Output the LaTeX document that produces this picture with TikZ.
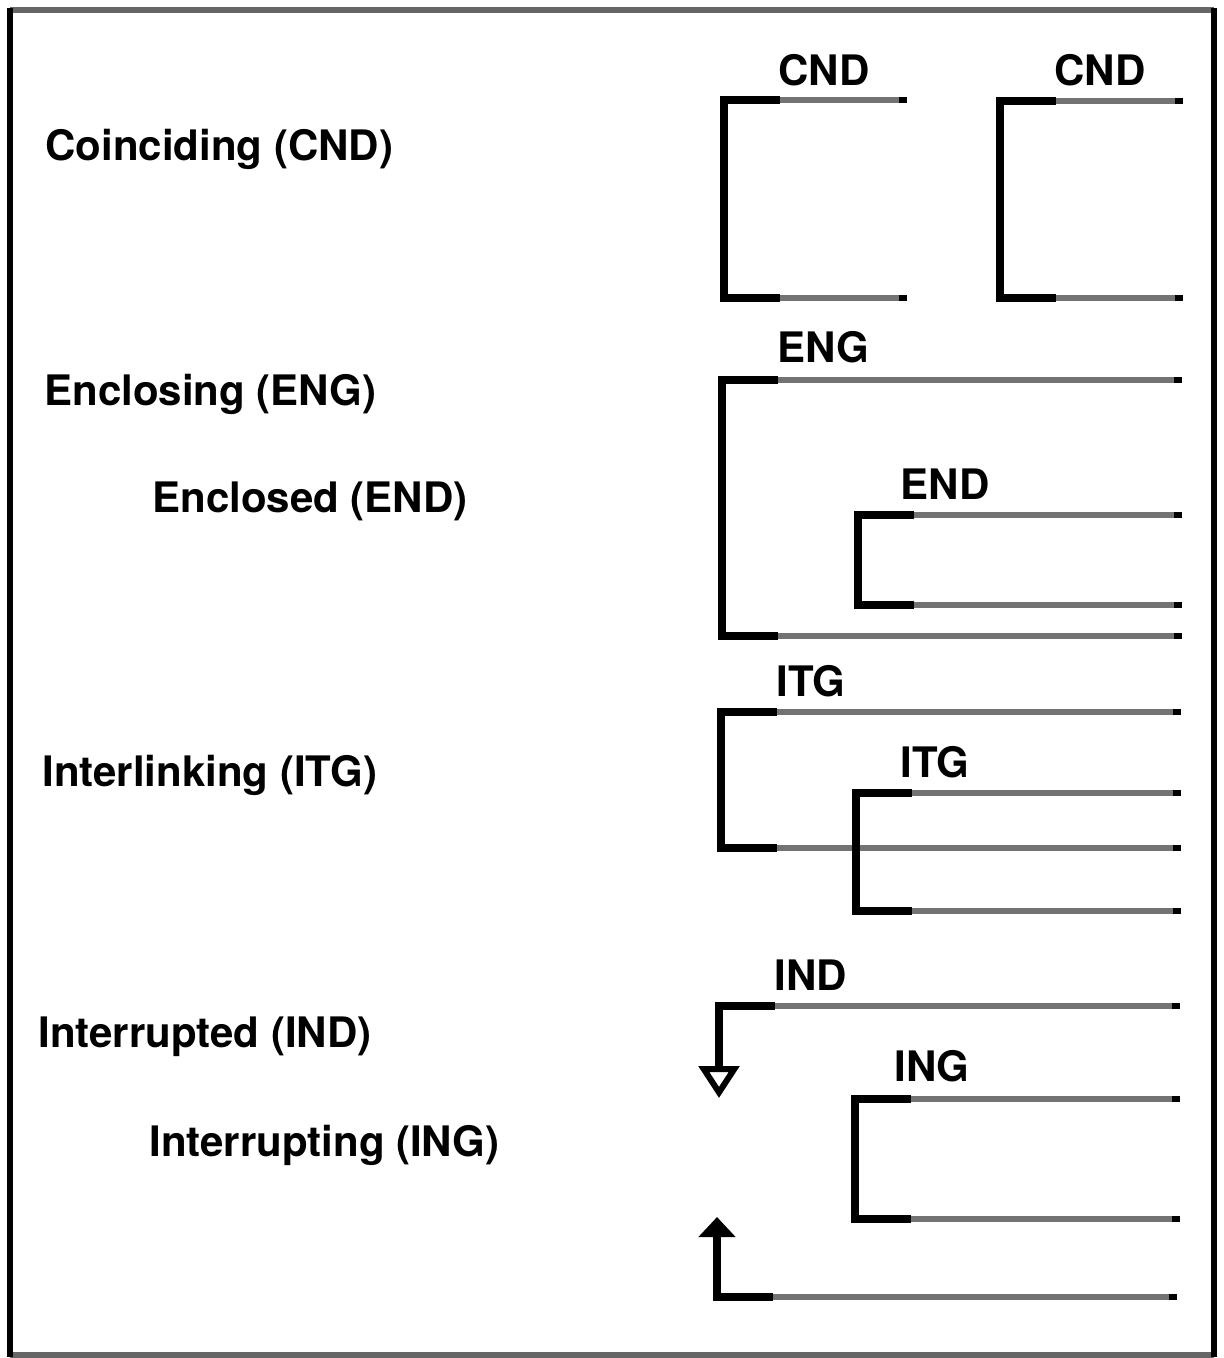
\documentclass[tikz,border=0pt]{standalone}
\usepackage{fontspec}
\setmainfont{TeX Gyre Heros}
\usetikzlibrary{arrows.meta}
\newcommand\brk[5]{% name, x, ytop, ybot, xend
  \coordinate (#1-tl) at (#2,#3);
  \coordinate (#1-bl) at (#2,#4);
  \coordinate (#1-tr) at (#5,#3);
  \coordinate (#1-br) at (#5,#4);
  \draw[graypart] ([xshift=27pt]#1-tl) -- (#1-tr);
  \draw[graypart] ([xshift=27pt]#1-bl) -- (#1-br);
  \draw[blackpart] ([xshift=28pt]#1-tl) -- (#1-tl) -- (#1-bl) -- ([xshift=28pt]#1-bl);
  \fill ([xshift=-4pt,yshift=1.6pt]#1-tr) rectangle ([yshift=-1.6pt]#1-tr);
  \fill ([xshift=-4pt,yshift=1.6pt]#1-br) rectangle ([yshift=-1.6pt]#1-br);
}
\begin{document}
\begin{tikzpicture}[x=0.5pt,y=-0.5pt,
  lab/.style={font=\fontsize{21}{24}\selectfont\bfseries, inner sep=0pt},
  blackpart/.style={line width=3.8pt, black, line join=miter},
  graypart/.style={line width=2.8pt, black!55},
  framev/.style={line width=3.2pt, black},
  frameh/.style={line width=2.8pt, black!60}]
\useasboundingbox (0,0) rectangle (1223,1358);
% frame
\draw[frameh] (10,10) -- (1214,10);
\draw[frameh] (10,1355) -- (1214,1355);
\draw[framev] (10,8) -- (10,1357);
\draw[framev] (1214,8) -- (1214,1357);
% left labels
\node[lab, anchor=west] (t1) at (45,149) {Coinciding (CND)};
\node[lab, anchor=west] (t2) at (44,394) {Enclosing (ENG)};
\node[lab, anchor=west] (t3) at (152,501) {Enclosed (END)};
\node[lab, anchor=west] (t4) at (42,775) {Interlinking (ITG)};
\node[lab, anchor=west] (t5) at (38,1037) {Interrupted (IND)};
\node[lab, anchor=west] (t6) at (149,1145) {Interrupting (ING)};
% bracket labels
\node[lab] (l1) at (824,70) {CND};
\node[lab] (l2) at (1100,70) {CND};
\node[lab] (l3) at (823,347) {ENG};
\node[lab] (l4) at (945,484) {END};
\node[lab] (l5) at (811,681) {ITG};
\node[lab] (l6) at (935,762) {ITG};
\node[lab] (l7) at (811,975) {IND};
\node[lab] (l8) at (932,1066) {ING};
% brackets
\brk{b1}{724}{100}{298}{907}
\brk{b2}{1000}{101}{298}{1183}
\brk{b3}{722}{380}{636}{1182}
\brk{b4}{858}{515}{605}{1182}
\brk{b5}{721}{712}{848}{1181}
\brk{b6}{856}{793}{911}{1181}
\brk{b8}{855}{1099}{1219}{1180}
% interrupted
\coordinate (i-t) at (719,1006);
\coordinate (i-te) at (1180,1006);
\coordinate (i-tip) at (719,1098);
\coordinate (i-b) at (717,1297);
\coordinate (i-be) at (1177,1297);
\coordinate (i-btip) at (717,1217);
\draw[graypart] ([xshift=27pt]i-t) -- (i-te);
\draw[graypart] ([xshift=27pt]i-b) -- (i-be);
\fill ([xshift=-4pt,yshift=1.6pt]i-te) rectangle ([yshift=-1.6pt]i-te);
\fill ([xshift=-4pt,yshift=1.6pt]i-be) rectangle ([yshift=-1.6pt]i-be);
\draw[blackpart, -{Triangle[open, length=16pt, width=20pt, line width=3pt]}] ([xshift=28pt]i-t) -- (i-t) -- (i-tip);
\draw[blackpart, -{Triangle[length=10pt, width=18pt]}] ([xshift=28pt]i-b) -- (i-b) -- (i-btip);
\end{tikzpicture}
\end{document}
